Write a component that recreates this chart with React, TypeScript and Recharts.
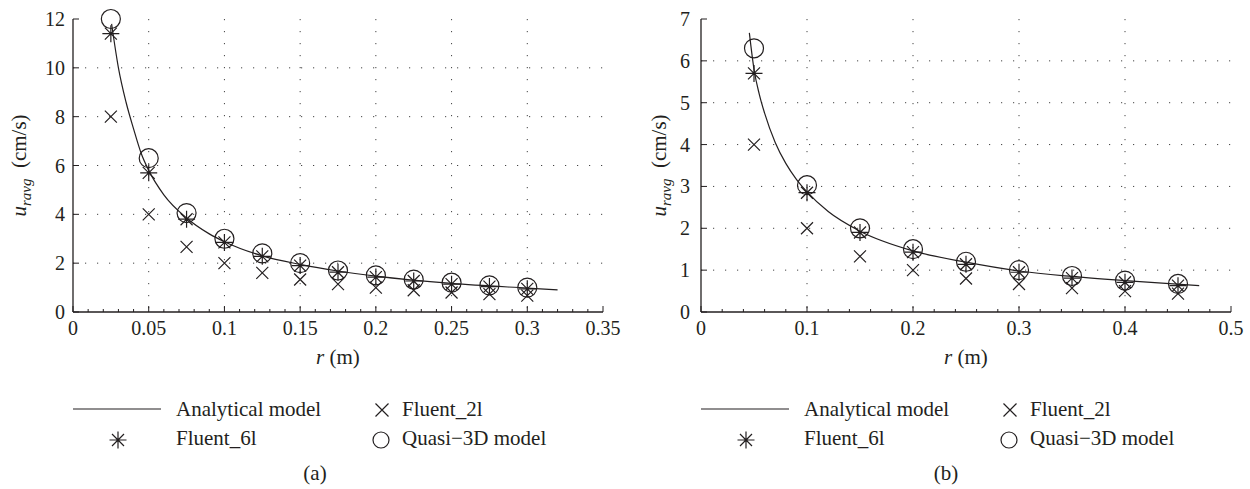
import React from "react";
import { CartesianGrid, ComposedChart, Label, Line, Scatter, XAxis, YAxis } from "recharts";

const FONT = '"Liberation Serif", "Times New Roman", serif';
const INK = "#231f20";

// panel (a): sampled radii (m) and averaged radial velocity (cm/s)
const rSamplesA = [0.025, 0.05, 0.075, 0.1, 0.125, 0.15, 0.175, 0.2, 0.225, 0.25, 0.275, 0.3];
const quasi3dA = [12.0, 6.3, 4.05, 3.0, 2.4, 2.0, 1.7, 1.5, 1.33, 1.2, 1.09, 1.0];
const fluent6lA = [11.4, 5.7, 3.8, 2.85, 2.28, 1.9, 1.63, 1.43, 1.27, 1.14, 1.04, 0.95];
const fluent2lA = [8.0, 4.0, 2.67, 2.0, 1.6, 1.33, 1.14, 1.0, 0.89, 0.8, 0.73, 0.67];
const analyticRA = [0.0255, 0.03, 0.035, 0.04, 0.045, 0.05, 0.06, 0.075, 0.09, 0.1, 0.125, 0.15, 0.175, 0.2, 0.25, 0.3, 0.32];
const analyticUA = [11.8, 10.0, 8.6, 7.5, 6.5, 5.8, 4.8, 3.85, 3.2, 2.88, 2.3, 1.95, 1.68, 1.47, 1.17, 0.98, 0.91];
const xTicksA = [0, 0.05, 0.1, 0.15, 0.2, 0.25, 0.3, 0.35];
const yTicksA = [0, 2, 4, 6, 8, 10, 12];

// panel (b)
const rSamplesB = [0.05, 0.1, 0.15, 0.2, 0.25, 0.3, 0.35, 0.4, 0.45];
const quasi3dB = [6.3, 3.03, 2.0, 1.5, 1.2, 1.0, 0.86, 0.75, 0.67];
const fluent6lB = [5.7, 2.85, 1.9, 1.43, 1.14, 0.95, 0.81, 0.71, 0.63];
const fluent2lB = [4.0, 2.0, 1.33, 1.0, 0.8, 0.67, 0.57, 0.5, 0.44];
const analyticRB = [0.0456, 0.05, 0.055, 0.06, 0.07, 0.08, 0.09, 0.1, 0.12, 0.15, 0.2, 0.25, 0.3, 0.35, 0.4, 0.47];
const analyticUB = [6.67, 5.8, 5.2, 4.75, 4.05, 3.55, 3.17, 2.87, 2.4, 1.93, 1.46, 1.19, 0.98, 0.85, 0.75, 0.63];
const xTicksB = [0, 0.1, 0.2, 0.3, 0.4, 0.5];
const yTicksB = [0, 1, 2, 3, 4, 5, 6, 7];

// field names avoid "r"/"x"/"y": Scatter spreads each row into the shape props
const pairs = (xs: number[], ys: number[]) => xs.map((dist, i) => ({ dist, vel: ys[i] }));

// majors plus 4 minor ticks between each pair
const withMinor = (majors: number[]) => {
  const out: number[] = [];
  majors.forEach((m, i) => {
    out.push(m);
    const next = majors[i + 1];
    if (next !== undefined) for (let k = 1; k < 5; k++) out.push(m + ((next - m) * k) / 5);
  });
  return out;
};
const isMajor = (v: number, majors: number[]) => majors.some((m) => Math.abs(m - v) < 1e-9);
const inner = (ticks: number[]) => ticks.slice(1, -1);

const tickStyle = { fontFamily: FONT, fontSize: 20, fill: INK };
const textStyle = { fontFamily: FONT, fontSize: 21, fill: INK };

// ---- markers ----
const CrossMark = ({ cx, cy, arm = 6 }: any) => (
  <path
    d={`M${cx - arm},${cy - arm}L${cx + arm},${cy + arm}M${cx - arm},${cy + arm}L${cx + arm},${cy - arm}`}
    stroke={INK}
    strokeWidth={1.2}
    fill="none"
  />
);
const StarMark = ({ cx, cy }: any) => {
  const a = 8.5;
  const d = 6;
  return (
    <path
      d={`M${cx - a},${cy}L${cx + a},${cy}M${cx},${cy - a}L${cx},${cy + a}M${cx - d},${cy - d}L${cx + d},${cy + d}M${cx - d},${cy + d}L${cx + d},${cy - d}`}
      stroke={INK}
      strokeWidth={1.2}
      fill="none"
    />
  );
};
const RingMark = ({ cx, cy, ring = 9.5 }: any) => (
  <circle cx={cx} cy={cy} r={ring} stroke={INK} strokeWidth={1.2} fill="none" />
);

// ---- inward ticks ----
const bottomTick = (majors: number[]) => (p: any) => {
  const major = isMajor(p.payload.value, majors);
  return (
    <g>
      <line x1={p.x} x2={p.x} y1={p.y} y2={p.y - (major ? 6 : 3)} stroke={INK} />
      {major && (
        <text x={p.x} y={p.y + 23} textAnchor="middle" style={tickStyle}>
          {String(p.payload.value)}
        </text>
      )}
    </g>
  );
};
const topTick = (majors: number[]) => (p: any) => {
  const major = isMajor(p.payload.value, majors);
  return <line x1={p.x} x2={p.x} y1={p.y} y2={p.y + (major ? 6 : 3)} stroke={INK} />;
};
const leftTick = (gap: number) => (p: any) => (
  <g>
    <line x1={p.x} x2={p.x + 6} y1={p.y} y2={p.y} stroke={INK} />
    <text x={p.x - gap} y={p.y + 7} textAnchor="end" style={tickStyle}>
      {String(p.payload.value)}
    </text>
  </g>
);
const rightTick = (p: any) => <line x1={p.x} x2={p.x - 6} y1={p.y} y2={p.y} stroke={INK} />;

const yTitle = (baseX: number) => (p: any) => {
  const vb = p.viewBox;
  const cy = vb.y + vb.height / 2;
  return (
    <text transform={`rotate(-90, ${baseX}, ${cy})`} x={baseX} y={cy} textAnchor="middle" style={textStyle}>
      <tspan fontStyle="italic">u</tspan>
      <tspan fontStyle="italic" fontSize={15} dy={5}>
        ravg
      </tspan>
      <tspan dy={-5}>{"\u00a0 (cm/s)"}</tspan>
    </text>
  );
};
const xTitle = (p: any) => {
  const vb = p.viewBox;
  return (
    <text x={vb.x + vb.width / 2} y={vb.y + 52} textAnchor="middle" style={textStyle}>
      <tspan fontStyle="italic">r</tspan>
      <tspan> (m)</tspan>
    </text>
  );
};

interface PanelProps {
  left: number;
  yAxisWidth: number;
  rightMargin: number;
  xMax: number;
  yMax: number;
  xTicks: number[];
  yTicks: number[];
  tickGap: number;
  titleX: number;
  rSamples: number[];
  quasi3d: number[];
  fluent6l: number[];
  fluent2l: number[];
  analyticR: number[];
  analyticU: number[];
}

function Panel(props: PanelProps) {
  const xAll = withMinor(props.xTicks);
  return (
    <div style={{ position: "absolute", left: props.left, top: 0 }}>
      <ComposedChart
        width={625}
        height={489}
        margin={{ top: 19, right: props.rightMargin, bottom: 144, left: 0 }}
      >
        <CartesianGrid
          stroke="#444"
          strokeDasharray="1.2 10.8"
          verticalValues={inner(props.xTicks)}
          horizontalValues={inner(props.yTicks)}
        />
        <XAxis
          dataKey="dist"
          type="number"
          domain={[0, props.xMax]}
          ticks={xAll}
          interval={0}
          height={33}
          tickSize={0}
          tickMargin={0}
          tickLine={false}
          axisLine={{ stroke: INK, strokeWidth: 1.3 }}
          tick={bottomTick(props.xTicks)}
          label={<Label content={xTitle} />}
        />
        <XAxis
          xAxisId="top"
          orientation="top"
          type="number"
          domain={[0, props.xMax]}
          allowDataOverflow
          ticks={xAll}
          interval={0}
          height={0}
          tickSize={0}
          tickMargin={0}
          tickLine={false}
          axisLine={{ stroke: INK, strokeWidth: 1.3 }}
          tick={topTick(props.xTicks)}
        />
        <YAxis
          type="number"
          domain={[0, props.yMax]}
          ticks={props.yTicks}
          interval={0}
          width={props.yAxisWidth}
          tickSize={0}
          tickMargin={0}
          tickLine={false}
          axisLine={{ stroke: INK, strokeWidth: 1.3 }}
          tick={leftTick(props.tickGap)}
          label={<Label content={yTitle(props.titleX)} />}
        />
        <YAxis
          yAxisId="right"
          orientation="right"
          type="number"
          domain={[0, props.yMax]}
          allowDataOverflow
          ticks={props.yTicks}
          interval={0}
          width={0}
          tickSize={0}
          tickMargin={0}
          tickLine={false}
          axisLine={{ stroke: INK, strokeWidth: 1.3 }}
          tick={rightTick}
        />
        <Line
          data={pairs(props.analyticR, props.analyticU)}
          dataKey="vel"
          type="monotone"
          dot={false}
          activeDot={false}
          stroke={INK}
          strokeWidth={1.2}
          isAnimationActive={false}
        />
        <Scatter
          data={pairs(props.rSamples, props.fluent2l)}
          dataKey="vel"
          shape={<CrossMark />}
          isAnimationActive={false}
        />
        <Scatter
          data={pairs(props.rSamples, props.fluent6l)}
          dataKey="vel"
          shape={<StarMark />}
          isAnimationActive={false}
        />
        <Scatter
          data={pairs(props.rSamples, props.quasi3d)}
          dataKey="vel"
          shape={<RingMark />}
          isAnimationActive={false}
        />
      </ComposedChart>
    </div>
  );
}

function Key({ x0, caption, captionX }: { x0: number; caption: string; captionX: number }) {
  const r1 = 410;
  const r2 = 440;
  return (
    <g style={textStyle}>
      <line x1={x0} x2={x0 + 88} y1={r1 - 1} y2={r1 - 1} stroke={INK} strokeWidth={1.2} />
      <text x={x0 + 103} y={r1 + 6}>Analytical model</text>
      <CrossMark cx={x0 + 309} cy={r1} arm={6.5} />
      <text x={x0 + 329} y={r1 + 6}>Fluent_2l</text>
      <StarMark cx={x0 + 45} cy={r2} />
      <text x={x0 + 103} y={r2 + 5}>Fluent_6l</text>
      <RingMark cx={x0 + 308} cy={r2} ring={8} />
      <text x={x0 + 329} y={r2 + 5}>Quasi−3D model</text>
      <text x={captionX} y={480} textAnchor="middle">
        {caption}
      </text>
    </g>
  );
}

export default function App() {
  return (
    <div style={{ position: "absolute", left: 0, top: 0, width: 1250, height: 489, background: "#fff" }}>
      <Panel
        left={0}
        yAxisWidth={73}
        rightMargin={22}
        xMax={0.35}
        yMax={12}
        xTicks={xTicksA}
        yTicks={yTicksA}
        tickGap={8}
        titleX={26}
        rSamples={rSamplesA}
        quasi3d={quasi3dA}
        fluent6l={fluent6lA}
        fluent2l={fluent2lA}
        analyticR={analyticRA}
        analyticU={analyticUA}
      />
      <Panel
        left={625}
        yAxisWidth={76}
        rightMargin={19}
        xMax={0.5}
        yMax={7}
        xTicks={xTicksB}
        yTicks={yTicksB}
        tickGap={11}
        titleX={41}
        rSamples={rSamplesB}
        quasi3d={quasi3dB}
        fluent6l={fluent6lB}
        fluent2l={fluent2lB}
        analyticR={analyticRB}
        analyticU={analyticUB}
      />
      <svg width={1250} height={489} style={{ position: "absolute", left: 0, top: 0, pointerEvents: "none" }}>
        <Key x0={73} caption="(a)" captionX={315} />
        <Key x0={701} caption="(b)" captionX={946} />
      </svg>
    </div>
  );
}
